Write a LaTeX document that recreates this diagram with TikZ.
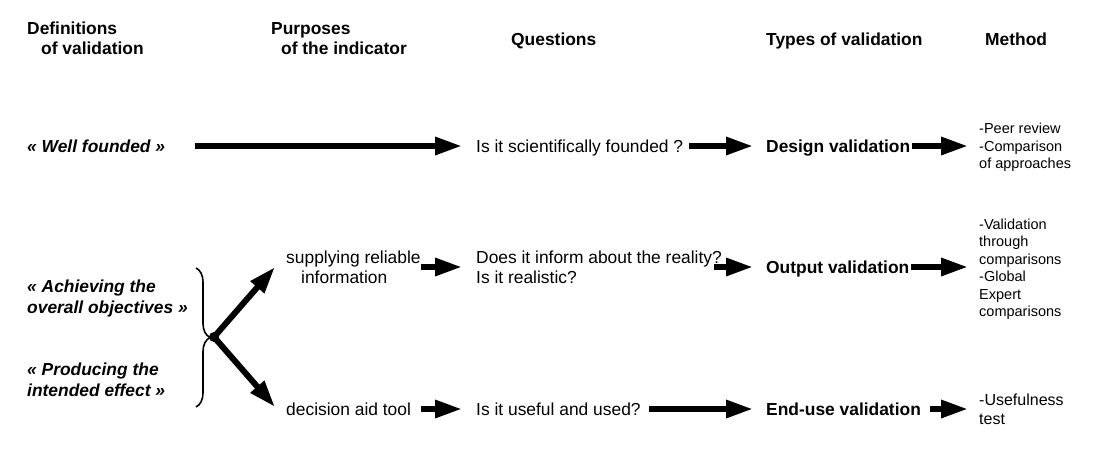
\documentclass[tikz,border=0pt]{standalone}
\usepackage{fontspec}
\setmainfont{Liberation Sans}
\usetikzlibrary{arrows.meta,calc,decorations.pathreplacing}
\begin{document}
\begin{tikzpicture}[x=1pt,y=-1pt,
  txt/.style={inner sep=0pt,anchor=base west,align=left,font=\fontsize{17.4}{20}\selectfont},
  head/.style={txt,font=\fontsize{17.4}{20}\selectfont\bfseries},
  defn/.style={txt,font=\fontsize{17.4}{21}\selectfont\bfseries\itshape},
  vtype/.style={txt,font=\fontsize{17.4}{20}\selectfont\bfseries},
  meth/.style={txt,font=\fontsize{14.5}{17.5}\selectfont},
  methbig/.style={txt,font=\fontsize{16}{19}\selectfont},
  arr/.style={line width=6pt,-{Triangle[length=27pt,width=17pt]}},
  hubdot/.style={circle,fill=black,inner sep=0pt,minimum size=10pt},
  bracestyle/.style={line width=1.6pt,decorate,decoration={brace,amplitude=14pt}}]
\useasboundingbox (0,0) rectangle (1101,453);
% headers (multi-line nodes: base = last line)
\node[head] (h1) at (27,54.5) {Definitions\\\hspace*{14pt}of validation};
\node[head] (h2) at (271,54.5) {Purposes\\\hspace*{10pt}of the indicator};
\node[head] (h3) at (511,45.5) {Questions};
\node[head] (h4) at (766,45.5) {Types of validation};
\node[head] (h5) at (985,45.5) {Method};
% row levels
\coordinate (r1) at (0,146);
\coordinate (r2) at (0,267);
\coordinate (r3) at (0,409);
% row 1
\node[defn] (d1) at (27,152.5) {« Well founded »};
\node[txt] (q1) at (476,152.5) {Is it scientifically founded ?};
\node[vtype] (t1) at (766,152.5) {Design validation};
\node[meth] (m1) at (979,168.5) {-Peer review\\-Comparison\\of approaches};
% row 2
\node[txt] (p2) at (286,283.5) {supplying reliable\\\hspace*{15pt}information};
\node[txt] (q2) at (476,283.5) {Does it inform about the reality?\\Is it realistic?};
\node[vtype] (t2) at (766,273.5) {Output validation};
\node[meth] (m2) at (979,316.5) {-Validation\\through\\comparisons\\-Global\\Expert\\comparisons};
% row 3
\node[txt] (p3) at (286,415.5) {decision aid tool};
\node[txt] (q3) at (476,415.5) {Is it useful and used?};
\node[vtype] (t3) at (766,415.5) {End-use validation};
\node[methbig] (m3) at (979,424) {-Usefulness\\test};
% left definitions
\node[defn] (d2) at (27,313.5) {« Achieving the\\overall objectives »};
\node[defn] (d3) at (27,396.5) {« Producing the\\intended effect »};
% brace and hub
\draw[bracestyle] (196,268) -- (196,407);
\node[hubdot] (hub) at (214,337) {};
\draw[arr] (hub.center) -- ($(p2.west|-r2)+(-11,0)$);
\draw[arr] (hub.center) -- ($(p3.west|-r3)+(-11,-2)$);
% row arrows
\draw[arr] ($(d1.east|-r1)+(30,0)$) -- ($(q1.west|-r1)+(-14,0)$);
\draw[arr] ($(q1.east|-r1)+(6,0)$) -- ($(t1.west|-r1)+(-13,0)$);
\draw[arr] ($(t1.east|-r1)+(2,0)$) -- ($(m1.west|-r1)+(-11,0)$);
\draw[arr] ($(p2.east|-r2)+(0,0)$) -- ($(q2.west|-r2)+(-14,0)$);
\draw[arr] ($(q2.east|-r2)+(-8,0)$) -- ($(t2.west|-r2)+(-13,0)$);
\draw[arr] ($(t2.east|-r2)+(2,0)$) -- ($(m2.west|-r2)+(-11,0)$);
\draw[arr] ($(p3.east|-r3)+(10,0)$) -- ($(q3.west|-r3)+(-14,0)$);
\draw[arr] ($(q3.east|-r3)+(8,0)$) -- ($(t3.west|-r3)+(-13,0)$);
\draw[arr] ($(t3.east|-r3)+(9,0)$) -- ($(m3.west|-r3)+(-11,0)$);
\end{tikzpicture}
\end{document}
